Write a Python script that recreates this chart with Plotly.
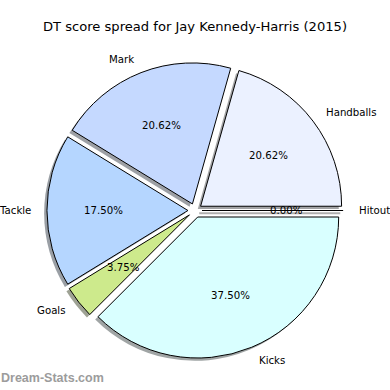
import math
import plotly.graph_objects as go

# ---- data ----
labels = ["Hitout", "Handballs", "Mark", "Tackle", "Goals", "Kicks"]
values = [0, 33, 33, 28, 6, 60]
colors = ["#E8E8E8", "#EBF1FF", "#C5D9FF", "#B5D6FF", "#CDEA8C", "#D9FFFF"]
title_text = "DT score spread for Jay Kennedy-Harris (2015)"
watermark = "Dream-Stats.com"

# ---- geometry (pixels) ----
W = H = 390
CX, CY = 195.0, 210.5        # pie centre (screen px)
R = 141.0                    # radius px
PULL = 0.05
SHADOW = 0.02 * R            # matplotlib-like shadow offset
FONT = "DejaVu Sans"
FS = 10.2

half = R * (1 + PULL)


def dom(cx, cy):
    yb = H - cy
    return dict(x=[(cx - half) / W, (cx + half) / W], y=[(yb - half) / H, (yb + half) / H])


def shade(hexc):
    h = hexc.lstrip("#")
    r, g, b = (int(h[i:i + 2], 16) for i in (0, 2, 4))
    return f"rgba({int(r*0.3)},{int(g*0.3)},{int(b*0.3)},0.5)"


fig = go.Figure()
common = dict(labels=labels, values=values, sort=False, direction="counterclockwise",
              rotation=90, pull=[PULL] * len(values), textinfo="none",
              hoverinfo="label+percent", showlegend=False)

# shadow pie
fig.add_trace(go.Pie(domain=dom(CX - SHADOW, CY + SHADOW),
                     marker=dict(colors=[shade(c) for c in colors], line=dict(width=0)),
                     **common))
# main pie
fig.add_trace(go.Pie(domain=dom(CX, CY),
                     marker=dict(colors=colors, line=dict(color="black", width=1)),
                     **common))

total = sum(values)
annotations = []
shapes = []
cum = 0.0
for lab, v in zip(labels, values):
    mid = 2 * math.pi * (cum + v / 2) / total
    cum += v
    c, s = math.cos(mid), math.sin(mid)
    ex, ey = CX + PULL * R * c, CY - PULL * R * s
    # outer label
    lx, ly = ex + 1.1 * R * c, ey - 1.1 * R * s
    annotations.append(dict(x=lx / W, y=1 - ly / H, xref="paper", yref="paper",
                            text=lab, showarrow=False,
                            xanchor="left" if c > 0 else "right", yanchor="middle",
                            font=dict(family=FONT, size=FS, color="black")))
    # percent label
    px, py = ex + 0.6 * R * c, ey - 0.6 * R * s
    annotations.append(dict(x=px / W, y=1 - py / H, xref="paper", yref="paper",
                            text=f"{100 * v / total:.2f}%", showarrow=False,
                            xanchor="center", yanchor="middle",
                            font=dict(family=FONT, size=FS, color="black")))
    if v == 0:
        # zero-width wedge drawn as its edge line (plus shadow)
        x1, y1 = ex + R * c, ey - R * s
        shapes.append(dict(type="line", xref="paper", yref="paper",
                           x0=(ex - SHADOW) / W, y0=1 - (ey + SHADOW) / H,
                           x1=(x1 - SHADOW) / W, y1=1 - (y1 + SHADOW) / H,
                           line=dict(color="rgba(120,120,120,0.6)", width=2), layer="below"))
        shapes.append(dict(type="line", xref="paper", yref="paper",
                           x0=ex / W, y0=1 - ey / H, x1=x1 / W, y1=1 - y1 / H,
                           line=dict(color="black", width=1)))

annotations.append(dict(x=0, y=0.008, xref="paper", yref="paper", text="<b>" + watermark + "</b>",
                        showarrow=False, xanchor="left", yanchor="bottom", xshift=-1,
                        font=dict(family="Liberation Sans", size=12.5, color="#9c9c9c")))

fig.update_layout(
    width=W, height=H,
    margin=dict(l=0, r=0, t=0, b=0),
    paper_bgcolor="white", plot_bgcolor="white",
    title=dict(text=title_text, x=0.5, xanchor="center", y=1 - 26 / H, yanchor="middle",
               font=dict(family=FONT, size=13.1, color="black")),
    annotations=annotations,
    shapes=shapes,
)

fig.write_html("out.html", config={"displayModeBar": False},
               post_script="document.body.style.margin='0';document.body.style.overflow='hidden';")
